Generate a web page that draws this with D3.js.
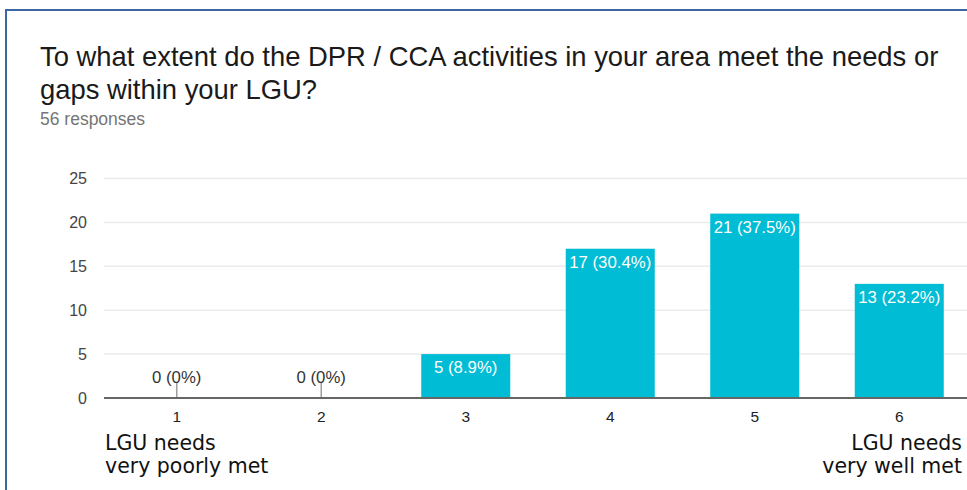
<!DOCTYPE html>
<html>
<head>
<meta charset="utf-8">
<script src="https://cdn.jsdelivr.net/npm/d3@7"></script>
<style>
  html, body { margin: 0; padding: 0; background: #fff; }
  svg { display: block; }
</style>
</head>
<body>
<svg id="chart" width="967" height="490"></svg>
<script>
// Survey answers on a 1–6 scale
const categories = ["1", "2", "3", "4", "5", "6"];
const counts = [0, 0, 5, 17, 21, 13];
const percents = ["0%", "0%", "8.9%", "30.4%", "37.5%", "23.2%"];
const yTicks = [0, 5, 10, 15, 20, 25];
const titleLines = [
  "To what extent do the DPR / CCA activities in your area meet the needs or",
  "gaps within your LGU?"
];
const subtitle = "56 responses";
const lowLabel = ["LGU needs", "very poorly met"];
const highLabel = ["LGU needs", "very well met"];

const svg = d3.select("#chart");
const W = 967, H = 490;
const sans = "Liberation Sans, Arial, sans-serif";

// frame
svg.append("path")
  .attr("d", `M6,${H} L6,10 L${W},10`)
  .attr("fill", "none")
  .attr("stroke", "#3d67a0")
  .attr("stroke-width", 2);

// title
const title = svg.append("text")
  .attr("font-family", sans)
  .attr("font-size", 27.4)
  .attr("fill", "#1a1a1a");
titleLines.forEach((t, i) => {
  title.append("tspan").attr("x", 40).attr("y", 66 + i * 33).text(t);
});

svg.append("text")
  .attr("x", 40).attr("y", 125)
  .attr("font-family", sans)
  .attr("font-size", 17.5)
  .attr("fill", "#757575")
  .text(subtitle);

// scales
const x = d3.scaleBand()
  .domain(categories)
  .range([104.5, 104.5 + 6 * 144.5])
  .paddingInner(0.384)
  .paddingOuter(0.192);

const y = d3.scaleLinear()
  .domain([0, 25])
  .range([398, 178.5]);

const plotLeft = 104, plotRight = W;

// gridlines
svg.append("g")
  .selectAll("line")
  .data(yTicks.filter(d => d > 0))
  .join("line")
  .attr("x1", plotLeft).attr("x2", plotRight)
  .attr("y1", d => y(d)).attr("y2", d => y(d))
  .attr("stroke", "#ebebeb")
  .attr("stroke-width", 1.5);

// y axis labels
const yAxis = svg.append("g")
  .attr("transform", `translate(${plotLeft},0)`)
  .call(d3.axisLeft(y).tickValues(yTicks).tickSize(0).tickPadding(17));
yAxis.select(".domain").remove();
yAxis.selectAll("text")
  .attr("font-family", sans)
  .attr("font-size", 16)
  .attr("fill", "#444");

const rows = categories.map((c, i) => ({ c, v: counts[i], p: percents[i] }));

// bars
svg.append("g")
  .selectAll("rect")
  .data(rows.filter(d => d.v > 0))
  .join("rect")
  .attr("x", d => x(d.c))
  .attr("width", x.bandwidth())
  .attr("y", d => y(d.v))
  .attr("height", d => y(0) - y(d.v))
  .attr("fill", "#00bcd4");

// zero-value markers
svg.append("g")
  .selectAll("line")
  .data(rows.filter(d => d.v === 0))
  .join("line")
  .attr("x1", d => x(d.c) + x.bandwidth() / 2)
  .attr("x2", d => x(d.c) + x.bandwidth() / 2)
  .attr("y1", y(0))
  .attr("y2", y(0) - 15)
  .attr("stroke", "#9e9e9e")
  .attr("stroke-width", 1.5);

// baseline
svg.append("line")
  .attr("x1", plotLeft).attr("x2", plotRight)
  .attr("y1", y(0)).attr("y2", y(0))
  .attr("stroke", "#666")
  .attr("stroke-width", 2);

// value labels
svg.append("g")
  .selectAll("text")
  .data(rows)
  .join("text")
  .attr("x", d => x(d.c) + x.bandwidth() / 2)
  .attr("y", d => d.v > 0 ? y(d.v) + 19 : y(0) - 15)
  .attr("text-anchor", "middle")
  .attr("font-family", sans)
  .attr("font-size", 16.8)
  .attr("fill", d => d.v > 0 ? "#fff" : "#333")
  .text(d => `${d.v} (${d.p})`);

// x axis labels
const xAxis = svg.append("g")
  .attr("transform", `translate(0,${y(0)})`)
  .call(d3.axisBottom(x).tickSize(0).tickPadding(13));
xAxis.select(".domain").remove();
xAxis.selectAll("text")
  .attr("font-family", sans)
  .attr("font-size", 15.5)
  .attr("fill", "#222");

// scale end captions
const capFont = "DejaVu Sans, Verdana, sans-serif";
const low = svg.append("text")
  .attr("font-family", capFont).attr("font-size", 20.5).attr("fill", "#111");
lowLabel.forEach((t, i) => low.append("tspan").attr("x", 105).attr("y", 450 + i * 23).text(t));
const high = svg.append("text")
  .attr("font-family", capFont).attr("font-size", 20.5).attr("fill", "#111")
  .attr("text-anchor", "end");
highLabel.forEach((t, i) => high.append("tspan").attr("x", 962).attr("y", 450 + i * 23).text(t));
</script>
</body>
</html>
